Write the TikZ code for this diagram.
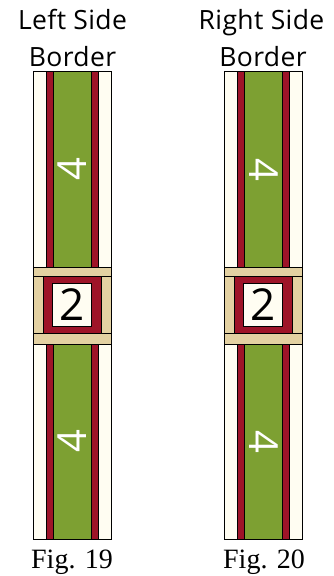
\documentclass[tikz,border=0pt]{standalone}
\usepackage{fontspec}
\setmainfont{Liberation Serif}
\newfontfamily\titlefont{Open Sans}
\newfontfamily\titlefontsp[LetterSpace=1.5]{Open Sans}
\definecolor{cream}{HTML}{FFFDF2}
\definecolor{qred}{HTML}{9E1428}
\definecolor{qgreen}{HTML}{7DA032}
\definecolor{qtan}{HTML}{E3D1A2}
\tikzset{
  patch/.style={draw=black, line width=0.7pt},
  title/.style={font=\titlefontsp\fontsize{26.5}{26.5}\selectfont, anchor=base, inner sep=0pt},
  caption/.style={font=\fontsize{28}{28}\selectfont, anchor=base, inner sep=0pt},
  numlab/.style={font=\titlefont\fontsize{40}{40}\selectfont, inner sep=0pt},
}
\newcommand{\borderstrip}[3]{% x0, ytop, ybot
  \draw[patch, fill=cream] (#1,#2) rectangle (#1+13.4,#3);
  \draw[patch, fill=qred] (#1+13.4,#2) rectangle (#1+20,#3);
  \draw[patch, fill=qgreen] (#1+20,#2) rectangle (#1+58.4,#3);
  \draw[patch, fill=qred] (#1+58.4,#2) rectangle (#1+65,#3);
  \draw[patch, fill=cream] (#1+65,#2) rectangle (#1+78.4,#3);
}
\newcommand{\centerblock}[1]{% x0
  \draw[patch, fill=qtan] (#1,267.3) rectangle (#1+78.4,276.7);
  \draw[patch, fill=qtan] (#1,333.3) rectangle (#1+78.4,344);
  \draw[patch, fill=qtan] (#1,276.7) rectangle (#1+10,333.3);
  \draw[patch, fill=qtan] (#1+68.4,276.7) rectangle (#1+78.4,333.3);
  \draw[patch, fill=qred] (#1+10,276.7) rectangle (#1+68.4,333.3);
  \draw[patch, fill=cream] (#1+19,283.3) rectangle (#1+58.4,326);
}
\begin{document}
\begin{tikzpicture}[x=1pt,y=-1pt]
\useasboundingbox (0,0) rectangle (334,576);
% left column
\borderstrip{33.3}{71.7}{267.3}
\borderstrip{33.3}{344}{539}
\centerblock{33.3}
% right column
\borderstrip{224.3}{71.7}{267.3}
\borderstrip{224.3}{344}{539}
\centerblock{224.3}
% labels
\node[title] (t1a) at (72.5,29) {Left Side};
\node[title] (t1b) at (72.5,66) {Border};
\node[title] (t2a) at (261.5,29) {Right Side};
\node[title] (t2b) at (263,66) {Border};
\node[numlab, rotate=90, white] (l4a) at (72.5,169.5) {4};
\node[numlab, rotate=90, white] (l4b) at (72.5,441.5) {4};
\node[numlab, rotate=-90, white] (r4a) at (263.5,169.5) {4};
\node[numlab, rotate=-90, white] (r4b) at (263.5,441.5) {4};
\node[numlab, font=\titlefont\fontsize{44}{44}\selectfont] (l2) at (72.5,305) {2};
\node[numlab, font=\titlefont\fontsize{44}{44}\selectfont] (r2) at (263.5,305) {2};
\node[caption] (c1) at (72,568) {Fig. 19};
\node[caption] (c2) at (264,568) {Fig. 20};
\end{tikzpicture}
\end{document}
